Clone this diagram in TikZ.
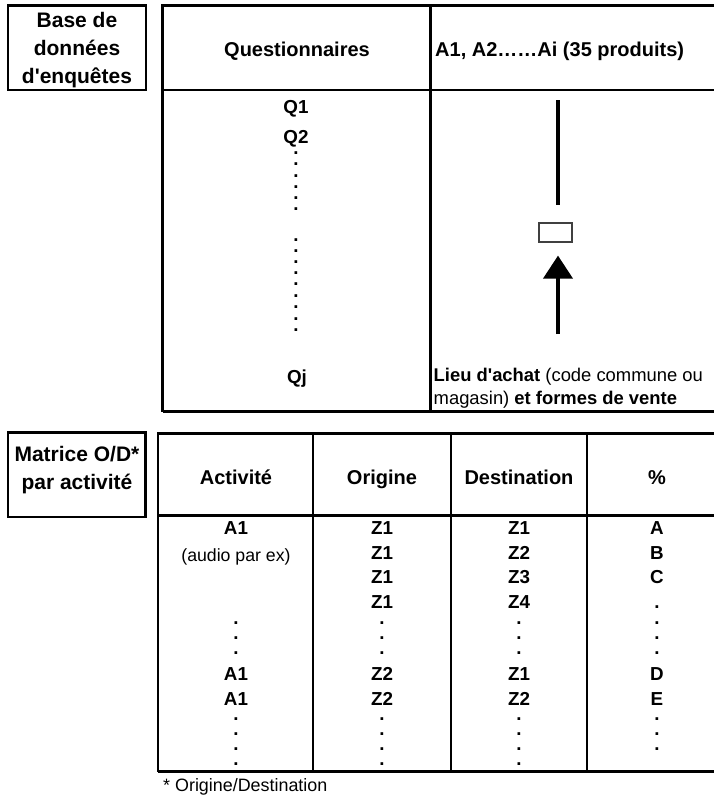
\documentclass[tikz,border=0pt]{standalone}
\usepackage{fontspec}
\setmainfont{Liberation Sans}
\usetikzlibrary{arrows.meta}

\tikzset{
  cadre/.style={draw, line width=2.2pt, inner sep=0pt},
  trait/.style={line width=2.2pt},
  titre/.style={font=\fontsize{21}{28}\selectfont\bfseries, inner sep=0pt, align=center},
  entete/.style={font=\fontsize{20}{28}\selectfont\bfseries, inner sep=0pt, anchor=base},
  cellule/.style={font=\fontsize{18.8}{22}\selectfont\bfseries, inner sep=0pt, anchor=base},
  pointille/.style={font=\fontsize{18.8}{22}\selectfont\bfseries, inner sep=0pt, anchor=base},
  note/.style={font=\fontsize{18.4}{23}\selectfont, inner sep=0pt, anchor=base west},
}

\begin{document}
\begin{tikzpicture}[x=1pt, y=-1pt]
    \useasboundingbox (0,0) rectangle (714,796);

    % Base de donnees d'enquetes
    \node[cadre, minimum width=138pt, minimum height=84.5pt] (baseboite) at (77,47.75) {};
    \node[titre] (basetitre) at (77,50.4) {Base de\\données\\d\textquotesingle{}enquêtes};

    \draw[trait] (162.5,411.5) -- (162.5,5.5) -- (730,5.5);
    \draw[trait] (162.5,90) -- (730,90);
    \draw[trait] (162.5,411.5) -- (730,411.5);
    \draw[trait] (430.5,5.5) -- (430.5,411.5);

    \node[entete] (quest) at (297,56.2) {Questionnaires};
    \node[entete, anchor=base west] (produits) at (435,56.2) {A1, A2……Ai (35 produits)};

    \node[cellule] (q1) at (296,113.7) {Q1};
    \node[cellule] (q2) at (296,143.7) {Q2};
    \node[cellule] (qj) at (297,383.7) {Qj};
    \foreach \y [count=\i] in {153,164,176,187,198,209,240,251,262,273,284,296,307,319,330}
        \node[pointille] (qp\i) at (296,\y+1.4) {.};

    % lieu d'achat
    \coordinate (haut) at (558,100);
    \coordinate (bas) at (558,334);
    \node[draw=black!75, line width=1.2pt, minimum width=33pt, minimum height=19pt, inner sep=0pt] (cible) at (555.5,232.5) {};
    \draw[line width=4pt, shorten >=17pt] (haut) -- (haut |- cible.north);
    \draw[line width=4pt, shorten >=13pt, -{Triangle[width=29pt,length=23pt]}] (bas) -- (bas |- cible.south);

    \node[note] (lieu1) at (433.5,381.6) {\textbf{Lieu d\textquotesingle{}achat} (code commune ou};
    \node[note] (lieu2) at (433.5,404.6) {magasin) \textbf{et formes de vente}};

    % Matrice O/D
    \node[cadre, minimum width=137.5pt, minimum height=84.5pt] (matboite) at (76.75,474.75) {};
    \node[titre] (mattitre) at (77,469.7) {Matrice O/D*\\par activité};

    \draw[trait] (158,771.5) -- (158,433.5) -- (730,433.5);
    \draw[trait] (158,515.5) -- (730,515.5);
    \draw[trait] (158,771.5) -- (730,771.5);
    \foreach \x in {313,451,587}
        \draw[trait] (\x,433.5) -- (\x,771.5);

    \node[entete] (activite) at (236,484.2) {Activité};
    \node[entete] (origine) at (382,484.2) {Origine};
    \node[entete] (destination) at (519,484.2) {Destination};
    \node[entete] (pourcent) at (657,484.2) {\%};

    \foreach \t/\y [count=\i] in {A1/534.7, A1/680.7, A1/705.7}
        \node[cellule] (act\i) at (236,\y) {\t};
    \node[cellule, font=\fontsize{17.7}{22}\selectfont] (audio) at (236,561) {(audio par ex)};
    \foreach \t/\y [count=\i] in {Z1/534.7, Z1/559.7, Z1/583.7, Z1/608.7, Z2/680.7, Z2/705.7}
        \node[cellule] (ori\i) at (382,\y) {\t};
    \foreach \t/\y [count=\i] in {Z1/534.7, Z2/559.7, Z3/583.7, Z4/608.7, Z1/680.7, Z2/705.7}
        \node[cellule] (dest\i) at (519,\y) {\t};
    \foreach \t/\y [count=\i] in {A/534.7, B/559.7, C/583.7, D/680.7, E/705.7}
        \node[cellule] (pc\i) at (657,\y) {\t};

    \foreach \x/\n in {236/actp, 382/orip, 519/destp}
        \foreach \y [count=\i] in {623,638,653,719,734,749,764}
            \node[pointille] (\n\i) at (\x,\y+1.4) {.};
    \foreach \y [count=\i] in {607,623,638,653,719,734,749}
        \node[pointille] (pcp\i) at (657,\y+1.4) {.};

    \node[note, font=\fontsize{17.9}{22}\selectfont] (renvoi) at (163,791.4) {* Origine/Destination};
\end{tikzpicture}
\end{document}
